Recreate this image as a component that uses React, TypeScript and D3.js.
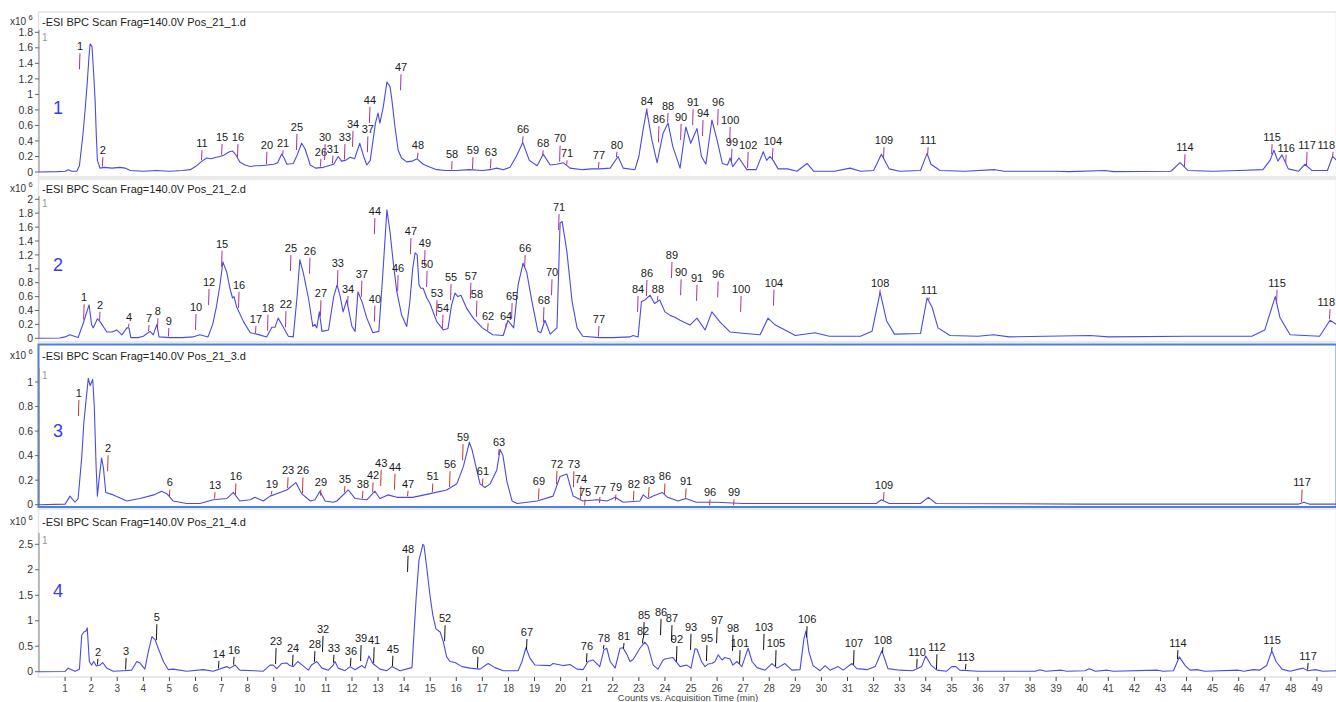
import * as d3 from "d3";

// ---- data (time in min, counts in x10^6) ----
const titles = [
  "-ESI BPC Scan Frag=140.0V Pos_21_1.d",
  "-ESI BPC Scan Frag=140.0V Pos_21_2.d",
  "-ESI BPC Scan Frag=140.0V Pos_21_3.d",
  "-ESI BPC Scan Frag=140.0V Pos_21_4.d",
];
const panelNames = ["1", "2", "3", "4"];

const xTicks = d3.range(1, 50);
const yTicks1 = [0, 0.2, 0.4, 0.6, 0.8, 1, 1.2, 1.4, 1.6, 1.8];
const yTicks2 = [0, 0.2, 0.4, 0.6, 0.8, 1, 1.2, 1.4, 1.6, 1.8, 2];
const yTicks3 = [0, 0.2, 0.4, 0.6, 0.8, 1];
const yTicks4 = [0, 0.5, 1, 1.5, 2, 2.5];

const trace1: [number, number][] = [
  [0, 0], [0.7, 0.005], [1.0, 0.01], [1.12, 0.03], [1.25, 0.01], [1.45, 0.01], [1.55, 0.08], [1.69, 0.5],
  [1.78, 0.85], [1.85, 1.15], [1.92, 1.5], [1.96, 1.65], [2.03, 1.62], [2.1, 1.25], [2.15, 0.93], [2.2, 0.45],
  [2.24, 0.15], [2.34, 0.05], [2.5, 0.06], [2.8, 0.05], [3.1, 0.06], [3.3, 0.05], [3.5, 0.02], [4.0, 0.01],
  [4.5, 0.02], [5.0, 0.01], [5.5, 0.02], [5.8, 0.03], [6.0, 0.07], [6.25, 0.14], [6.43, 0.18], [6.6, 0.17],
  [6.8, 0.19], [6.94, 0.2], [7.1, 0.22], [7.3, 0.26], [7.42, 0.27], [7.55, 0.22], [7.7, 0.13], [7.9, 0.09],
  [8.1, 0.07], [8.3, 0.08], [8.5, 0.08], [8.75, 0.09], [9.0, 0.1], [9.15, 0.12], [9.3, 0.23], [9.4, 0.18],
  [9.5, 0.1], [9.75, 0.11], [9.9, 0.22], [10.07, 0.37], [10.2, 0.3], [10.4, 0.09], [10.6, 0.05], [10.9, 0.06],
  [11.1, 0.08], [11.3, 0.1], [11.47, 0.2], [11.6, 0.14], [11.75, 0.15], [11.93, 0.19], [12.1, 0.17], [12.3, 0.37],
  [12.45, 0.2], [12.57, 0.09], [12.7, 0.15], [12.9, 0.63], [13.0, 0.76], [13.07, 0.63], [13.2, 0.84], [13.34, 1.16],
  [13.46, 1.1], [13.53, 0.93], [13.65, 0.58], [13.77, 0.28], [13.9, 0.18], [14.1, 0.13], [14.3, 0.14], [14.5, 0.17],
  [14.73, 0.1], [15.0, 0.06], [15.25, 0.03], [15.6, 0.02], [16.0, 0.02], [16.5, 0.03], [17.0, 0.02], [17.3, 0.03],
  [17.55, 0.05], [17.8, 0.03], [18.06, 0.06], [18.3, 0.2], [18.55, 0.38], [18.8, 0.15], [19.1, 0.08], [19.33, 0.23],
  [19.6, 0.09], [19.85, 0.1], [20.1, 0.12], [20.36, 0.05], [20.85, 0.03], [21.2, 0.04], [21.5, 0.04], [21.9, 0.05],
  [22.2, 0.2], [22.4, 0.05], [22.85, 0.03], [23.0, 0.2], [23.16, 0.54], [23.3, 0.8], [23.5, 0.41], [23.7, 0.12],
  [23.93, 0.5], [24.12, 0.63], [24.3, 0.33], [24.58, 0.05], [24.8, 0.58], [24.99, 0.37], [25.23, 0.56], [25.4, 0.2],
  [25.57, 0.1], [25.8, 0.67], [26.0, 0.41], [26.2, 0.11], [26.4, 0.09], [26.5, 0.18], [26.6, 0.07], [26.84, 0.18],
  [27.14, 0.03], [27.5, 0.03], [27.77, 0.26], [27.9, 0.15], [28.03, 0.2], [28.15, 0.15], [28.34, 0.04], [28.7, 0.04],
  [29.06, 0.01], [29.45, 0.11], [29.7, 0.01], [30.5, 0.01], [31.1, 0.05], [31.5, 0.01], [32.0, 0.02], [32.3, 0.23],
  [32.6, 0.04], [33.0, 0.01], [33.8, 0.02], [34.05, 0.24], [34.2, 0.1], [34.55, 0.02], [35.5, 0.01], [36.65, 0.03],
  [37.0, 0.01], [38.96, 0.01], [39.5, 0.005], [40.87, 0.02], [41.2, 0.005], [43.4, 0.01], [43.75, 0.12], [44.05, 0.02],
  [45.0, 0.01], [46.0, 0.02], [46.93, 0.03], [47.2, 0.15], [47.35, 0.28], [47.5, 0.14], [47.66, 0.22], [47.9, 0.04],
  [48.3, 0.01], [48.54, 0.1], [48.8, 0.02], [49.4, 0.02], [49.6, 0.2], [49.75, 0.15],
];

const trace2: [number, number][] = [
  [0, 0], [0.8, 0.005], [1.0, 0.02], [1.19, 0.05], [1.35, 0.03], [1.5, 0.01], [1.7, 0.22], [1.8, 0.34],
  [1.92, 0.48], [2.02, 0.19], [2.08, 0.15], [2.24, 0.28], [2.34, 0.24], [2.6, 0.09], [2.8, 0.09], [2.98, 0.12],
  [3.18, 0.05], [3.37, 0.15], [3.45, 0.15], [3.52, 0.01], [3.8, 0.01], [4.0, 0.03], [4.26, 0.1], [4.38, 0.05],
  [4.52, 0.2], [4.6, 0.02], [5.0, 0.01], [5.5, 0.01], [5.9, 0.02], [6.17, 0.05], [6.48, 0.02], [6.66, 0.2],
  [6.8, 0.45], [6.94, 0.77], [7.05, 1.1], [7.2, 0.95], [7.32, 0.72], [7.42, 0.58], [7.48, 0.6], [7.58, 0.45],
  [7.84, 0.24], [8.1, 0.08], [8.35, 0.06], [8.73, 0.02], [8.93, 0.16], [9.05, 0.16], [9.17, 0.29], [9.37, 0.16],
  [9.56, 0.03], [9.75, 0.02], [9.9, 0.62], [10.0, 1.13], [10.13, 0.95], [10.33, 0.58], [10.5, 0.17], [10.58, 0.2],
  [10.65, 0.15], [10.75, 0.38], [10.85, 0.1], [11.1, 0.12], [11.3, 0.6], [11.43, 0.77], [11.55, 0.6], [11.66, 0.38],
  [11.8, 0.55], [12.0, 0.17], [12.12, 0.1], [12.23, 0.67], [12.38, 0.53], [12.57, 0.29], [12.8, 0.08], [13.03, 0.1],
  [13.18, 0.91], [13.34, 1.85], [13.46, 1.53], [13.58, 1.1], [13.72, 0.67], [13.9, 0.34], [14.1, 0.17], [14.22, 0.53],
  [14.33, 1.01], [14.42, 1.23], [14.5, 1.2], [14.57, 0.77], [14.64, 0.72], [14.73, 0.72], [14.87, 0.58], [14.99, 0.5],
  [15.25, 0.24], [15.5, 0.12], [15.68, 0.14], [15.82, 0.48], [15.95, 0.65], [16.06, 0.6], [16.18, 0.62], [16.4, 0.43],
  [16.65, 0.29], [17.0, 0.15], [17.4, 0.05], [17.8, 0.04], [17.98, 0.26], [18.2, 0.15], [18.37, 0.77], [18.56, 1.08],
  [18.7, 0.95], [18.9, 0.53], [19.13, 0.1], [19.24, 0.08], [19.4, 0.26], [19.6, 0.06], [19.86, 0.15], [19.98, 1.66],
  [20.06, 1.68], [20.24, 1.25], [20.44, 0.53], [20.63, 0.15], [20.85, 0.03], [21.5, 0.01], [22.0, 0.01], [22.66, 0.02],
  [22.78, 0.04], [22.97, 0.02], [23.1, 0.53], [23.23, 0.55], [23.43, 0.62], [23.6, 0.5], [23.8, 0.55], [24.0, 0.38],
  [24.2, 0.33], [24.4, 0.3], [24.58, 0.26], [24.96, 0.19], [25.23, 0.29], [25.54, 0.12], [25.8, 0.38], [26.1, 0.24],
  [26.5, 0.09], [27.07, 0.07], [27.65, 0.05], [27.95, 0.29], [28.2, 0.2], [28.6, 0.12], [29.0, 0.04], [29.75, 0.08],
  [30.3, 0.03], [31.5, 0.03], [31.94, 0.1], [32.25, 0.66], [32.5, 0.25], [32.8, 0.06], [33.8, 0.07], [34.05, 0.58],
  [34.24, 0.45], [34.47, 0.15], [34.93, 0.04], [36.0, 0.03], [36.6, 0.05], [37.2, 0.02], [40.3, 0.04], [41.0, 0.02],
  [44.0, 0.03], [46.5, 0.03], [47.0, 0.12], [47.4, 0.6], [47.58, 0.3], [47.97, 0.05], [49.1, 0.03], [49.5, 0.26],
  [49.75, 0.2],
];

const trace3: [number, number][] = [
  [0, 0], [1.0, 0.005], [1.19, 0.07], [1.38, 0.02], [1.5, 0.05], [1.64, 0.39], [1.72, 0.67], [1.8, 0.84],
  [1.89, 1.03], [1.96, 0.97], [2.06, 1.02], [2.12, 0.8], [2.19, 0.31], [2.24, 0.07], [2.3, 0.2], [2.4, 0.38],
  [2.47, 0.3], [2.56, 0.1], [2.85, 0.08], [3.37, 0.03], [3.87, 0.05], [4.4, 0.08], [4.7, 0.11], [4.9, 0.09],
  [5.15, 0.03], [5.66, 0.01], [6.17, 0.01], [6.68, 0.04], [7.2, 0.05], [7.45, 0.1], [7.7, 0.03], [8.1, 0.04],
  [8.28, 0.06], [8.6, 0.03], [8.86, 0.07], [9.24, 0.1], [9.5, 0.12], [9.85, 0.18], [10.07, 0.09], [10.4, 0.03],
  [10.58, 0.04], [10.77, 0.11], [10.97, 0.03], [11.28, 0.02], [11.42, 0.03], [11.86, 0.12], [12.12, 0.05], [12.57, 0.04],
  [12.88, 0.11], [13.07, 0.05], [13.38, 0.08], [13.72, 0.06], [14.33, 0.06], [15.0, 0.09], [15.63, 0.12], [16.02, 0.17],
  [16.27, 0.31], [16.4, 0.42], [16.5, 0.51], [16.6, 0.45], [16.72, 0.34], [16.91, 0.17], [17.1, 0.14], [17.3, 0.17],
  [17.55, 0.28], [17.68, 0.45], [17.79, 0.4], [17.94, 0.19], [18.14, 0.03], [18.33, 0.01], [19.1, 0.03], [19.71, 0.07],
  [19.98, 0.23], [20.24, 0.25], [20.36, 0.16], [20.48, 0.07], [20.86, 0.03], [21.4, 0.04], [21.78, 0.03], [22.09, 0.06],
  [22.4, 0.02], [23.04, 0.03], [23.17, 0.08], [23.35, 0.05], [23.55, 0.07], [23.9, 0.1], [24.1, 0.06], [24.5, 0.03],
  [24.8, 0.05], [25.2, 0.02], [26.0, 0.02], [27.0, 0.01], [29.0, 0.01], [31.0, 0.01], [32.1, 0.01], [32.3, 0.04],
  [32.6, 0.01], [33.8, 0.01], [34.1, 0.06], [34.4, 0.01], [40.0, 0.005], [48.3, 0.005], [48.5, 0.02], [48.7, 0.005],
  [49.75, 0.005],
];

const trace4: [number, number][] = [
  [0, 0], [1.0, 0.005], [1.12, 0.07], [1.38, 0.01], [1.55, 0.05], [1.64, 0.72], [1.72, 0.78], [1.8, 0.8],
  [1.85, 0.86], [1.93, 0.2], [2.02, 0.13], [2.1, 0.2], [2.2, 0.11], [2.34, 0.13], [2.44, 0.18], [2.6, 0.07],
  [2.85, 0.01], [3.23, 0.02], [3.55, 0.03], [3.75, 0.2], [3.87, 0.17], [4.06, 0.05], [4.19, 0.39], [4.33, 0.69],
  [4.45, 0.63], [4.57, 0.46], [4.77, 0.2], [4.96, 0.04], [5.15, 0.05], [5.66, 0.01], [6.3, 0.04], [6.68, 0.01],
  [7.2, 0.1], [7.32, 0.07], [7.52, 0.13], [7.7, 0.03], [8.22, 0.02], [8.6, 0.01], [8.86, 0.13], [8.98, 0.13],
  [9.12, 0.06], [9.3, 0.16], [9.5, 0.17], [9.62, 0.12], [9.75, 0.1], [9.92, 0.2], [10.07, 0.14], [10.33, 0.03],
  [10.45, 0.13], [10.65, 0.2], [10.85, 0.07], [11.09, 0.03], [11.28, 0.13], [11.35, 0.2], [11.47, 0.07], [11.73, 0.02],
  [11.93, 0.1], [12.12, 0.04], [12.38, 0.12], [12.5, 0.07], [12.65, 0.31], [12.8, 0.16], [13.07, 0.05], [13.34, 0.02],
  [13.53, 0.1], [13.84, 0.02], [14.22, 0.07], [14.3, 0.08], [14.46, 1.44], [14.57, 2.19], [14.72, 2.5], [14.76, 2.48],
  [14.87, 2.03], [14.99, 1.5], [15.1, 1.11], [15.22, 0.84], [15.38, 0.78], [15.5, 0.59], [15.63, 0.29], [15.76, 0.2],
  [15.95, 0.18], [16.22, 0.1], [16.53, 0.07], [16.91, 0.05], [17.22, 0.16], [17.48, 0.08], [17.8, 0.02], [18.37, 0.02],
  [18.52, 0.2], [18.67, 0.47], [18.83, 0.26], [19.02, 0.13], [19.6, 0.12], [19.71, 0.16], [20.1, 0.12], [20.36, 0.14],
  [20.63, 0.05], [20.86, 0.04], [21.05, 0.2], [21.24, 0.23], [21.5, 0.1], [21.66, 0.43], [21.77, 0.46], [21.9, 0.2],
  [22.09, 0.07], [22.28, 0.46], [22.39, 0.47], [22.55, 0.33], [22.66, 0.2], [22.78, 0.24], [23.04, 0.46], [23.23, 0.58],
  [23.35, 0.5], [23.55, 0.13], [23.73, 0.05], [23.93, 0.23], [24.0, 0.25], [24.3, 0.28], [24.58, 0.1], [24.84, 0.13],
  [25.0, 0.07], [25.15, 0.45], [25.23, 0.44], [25.4, 0.2], [25.54, 0.1], [25.65, 0.15], [25.8, 0.16], [25.92, 0.2],
  [26.04, 0.33], [26.19, 0.23], [26.3, 0.28], [26.5, 0.25], [26.6, 0.13], [26.76, 0.2], [26.95, 0.1], [27.1, 0.33],
  [27.19, 0.46], [27.34, 0.2], [27.53, 0.08], [27.84, 0.03], [28.1, 0.16], [28.3, 0.07], [28.6, 0.16], [28.87, 0.03],
  [29.18, 0.04], [29.33, 0.65], [29.41, 0.8], [29.52, 0.39], [29.68, 0.12], [29.95, 0.02], [30.14, 0.12], [30.33, 0.03],
  [30.64, 0.1], [30.83, 0.03], [31.17, 0.16], [31.36, 0.06], [31.75, 0.04], [32.06, 0.1], [32.32, 0.41], [32.44, 0.23],
  [32.55, 0.06], [33.0, 0.03], [33.5, 0.02], [33.84, 0.1], [34.0, 0.31], [34.2, 0.13], [34.43, 0.03], [34.8, 0.01],
  [35.0, 0.1], [35.16, 0.1], [35.3, 0.03], [36.0, 0.01], [38.2, 0.01], [38.38, 0.04], [38.6, 0.01], [39.2, 0.03],
  [39.4, 0.01], [40.1, 0.02], [40.27, 0.06], [40.5, 0.01], [40.95, 0.03], [41.2, 0.01], [42.9, 0.03], [43.1, 0.01],
  [43.5, 0.02], [43.72, 0.29], [43.95, 0.12], [44.13, 0.03], [44.4, 0.04], [44.7, 0.01], [45.98, 0.03], [46.2, 0.01],
  [46.55, 0.04], [46.8, 0.03], [47.07, 0.12], [47.27, 0.41], [47.43, 0.2], [47.66, 0.05], [47.97, 0.01], [48.47, 0.07],
  [48.65, 0.02], [48.93, 0.04], [49.23, 0.01], [49.75, 0.02],
];

// peak labels: [text, time of label centre, height of label centre]
const labels1: [string, number, number][] = [
  ["1", 1.57, 1.62], ["2", 2.45, 0.28], ["11", 6.25, 0.37], ["15", 7.02, 0.45], ["16", 7.63, 0.45],
  ["20", 8.74, 0.35], ["21", 9.36, 0.37], ["25", 9.89, 0.58], ["26", 10.81, 0.26], ["30", 10.97, 0.45],
  ["31", 11.27, 0.3], ["33", 11.73, 0.45], ["34", 12.04, 0.62], ["37", 12.61, 0.55], ["44", 12.69, 0.93],
  ["47", 13.88, 1.35], ["48", 14.53, 0.34], ["58", 15.84, 0.23], ["59", 16.64, 0.28], ["63", 17.33, 0.26],
  ["66", 18.56, 0.55], ["68", 19.33, 0.37], ["70", 19.98, 0.43], ["71", 20.25, 0.24], ["77", 21.47, 0.22],
  ["80", 22.16, 0.35], ["84", 23.31, 0.91], ["86", 23.77, 0.68], ["88", 24.12, 0.85], ["90", 24.62, 0.71],
  ["91", 25.08, 0.9], ["94", 25.46, 0.76], ["96", 26.04, 0.9], ["100", 26.5, 0.67], ["99", 26.57, 0.39],
  ["102", 27.19, 0.35], ["104", 28.14, 0.4], ["109", 32.4, 0.41], ["111", 34.09, 0.41], ["114", 43.94, 0.32],
  ["115", 47.28, 0.45], ["116", 47.82, 0.31], ["117", 48.62, 0.35], ["118", 49.62, 0.35],
];

const labels2: [string, number, number][] = [
  ["1", 1.73, 0.59], ["2", 2.34, 0.48], ["4", 3.45, 0.31], ["7", 4.22, 0.29], ["8", 4.56, 0.39],
  ["9", 4.98, 0.25], ["10", 6.02, 0.45], ["12", 6.52, 0.81], ["15", 7.02, 1.36], ["16", 7.67, 0.77],
  ["17", 8.32, 0.28], ["18", 8.78, 0.44], ["22", 9.47, 0.49], ["25", 9.66, 1.3], ["26", 10.39, 1.26],
  ["27", 10.81, 0.65], ["33", 11.46, 1.08], ["34", 11.85, 0.71], ["37", 12.38, 0.93], ["40", 12.88, 0.57],
  ["44", 12.88, 1.83], ["46", 13.77, 1.01], ["47", 14.26, 1.54], ["49", 14.8, 1.37], ["50", 14.88, 1.07],
  ["53", 15.26, 0.65], ["54", 15.49, 0.44], ["55", 15.8, 0.88], ["57", 16.56, 0.9], ["58", 16.79, 0.64],
  ["62", 17.22, 0.32], ["64", 17.91, 0.32], ["65", 18.14, 0.61], ["66", 18.64, 1.3], ["68", 19.36, 0.55],
  ["70", 19.67, 0.95], ["71", 19.94, 1.89], ["77", 21.47, 0.28], ["84", 22.97, 0.71], ["86", 23.31, 0.94],
  ["88", 23.73, 0.71], ["89", 24.27, 1.2], ["90", 24.62, 0.95], ["91", 25.23, 0.87], ["96", 26.04, 0.92],
  ["100", 26.92, 0.71], ["104", 28.18, 0.8], ["108", 32.25, 0.8], ["111", 34.13, 0.69], ["115", 47.47, 0.8],
  ["118", 49.5, 0.52],
];

const labels3: [string, number, number][] = [
  ["1", 1.53, 0.91], ["2", 2.65, 0.46], ["6", 5.02, 0.18], ["13", 6.75, 0.16], ["16", 7.55, 0.23],
  ["19", 8.93, 0.17], ["23", 9.55, 0.28], ["26", 10.12, 0.28], ["29", 10.81, 0.18], ["35", 11.73, 0.21],
  ["38", 12.42, 0.17], ["42", 12.81, 0.24], ["43", 13.12, 0.34], ["44", 13.65, 0.31], ["47", 14.15, 0.17],
  ["51", 15.1, 0.23], ["56", 15.76, 0.33], ["59", 16.26, 0.55], ["61", 17.02, 0.27], ["63", 17.64, 0.51],
  ["69", 19.17, 0.19], ["72", 19.86, 0.33], ["73", 20.51, 0.33], ["74", 20.78, 0.21], ["75", 20.94, 0.1],
  ["77", 21.51, 0.12], ["79", 22.12, 0.14], ["82", 22.81, 0.17], ["83", 23.39, 0.2], ["86", 24.0, 0.23],
  ["91", 24.81, 0.19], ["96", 25.73, 0.1], ["99", 26.65, 0.1], ["109", 32.4, 0.16], ["117", 48.43, 0.18],
];

const labels4: [string, number, number][] = [
  ["2", 2.26, 0.39], ["3", 3.34, 0.41], ["5", 4.52, 1.07], ["14", 6.9, 0.35], ["16", 7.48, 0.43],
  ["23", 9.09, 0.6], ["24", 9.74, 0.47], ["28", 10.58, 0.54], ["32", 10.89, 0.84], ["33", 11.31, 0.47],
  ["36", 11.96, 0.41], ["39", 12.35, 0.66], ["41", 12.85, 0.62], ["45", 13.57, 0.45], ["48", 14.15, 2.41],
  ["52", 15.57, 1.05], ["60", 16.83, 0.43], ["67", 18.71, 0.78], ["76", 21.01, 0.5], ["78", 21.66, 0.66],
  ["81", 22.43, 0.7], ["82", 23.16, 0.8], ["85", 23.2, 1.11], ["86", 23.85, 1.17], ["87", 24.27, 1.05],
  ["92", 24.46, 0.64], ["93", 25.0, 0.88], ["95", 25.61, 0.66], ["97", 26.0, 1.01], ["98", 26.61, 0.86],
  ["101", 26.88, 0.56], ["103", 27.8, 0.88], ["105", 28.26, 0.56], ["106", 29.45, 1.03], ["107", 31.25, 0.56],
  ["108", 32.36, 0.62], ["110", 33.67, 0.39], ["112", 34.43, 0.48], ["113", 35.54, 0.29], ["114", 43.67, 0.56],
  ["115", 47.28, 0.62], ["117", 48.66, 0.31],
];

// ---- layout ----
const W = 1336;
const H = 702;
const FONT = "'Liberation Sans', Arial, sans-serif";
const x = d3.scaleLinear().domain([0, 49.73]).range([39, W]);

const panels = [
  { trace: trace1, labels: labels1, ticks: yTicks1, vmax: 1.8, y0: 172, y1: 32.3, axisTop: 30, box: [12, 177], headY: 22, numY: 108, marker: "#a4309c", border: "#e3e3e3" },
  { trace: trace2, labels: labels2, ticks: yTicks2, vmax: 2, y0: 338.3, y1: 199.3, axisTop: 196, box: [179, 342], headY: 189, numY: 265, marker: "#a8349a", border: "#e3e3e3" },
  { trace: trace3, labels: labels3, ticks: yTicks3, vmax: 1, y0: 504.7, y1: 382, axisTop: 368, box: [344.5, 507], headY: 356, numY: 431, marker: "#c0392b", border: "#4f7fd6" },
  { trace: trace4, labels: labels4, ticks: yTicks4, vmax: 2.5, y0: 671.7, y1: 544.3, axisTop: 533, box: [509, 677], headY: 522, numY: 591, marker: "#111111", border: "#e3e3e3" },
];

const interp = (trace: [number, number][], t: number) => {
  const i = d3.bisector((d: [number, number]) => d[0]).left(trace, t);
  if (i <= 0) return trace[0][1];
  if (i >= trace.length) return trace[trace.length - 1][1];
  const [t0, v0] = trace[i - 1];
  const [t1, v1] = trace[i];
  return v0 + ((v1 - v0) * (t - t0)) / (t1 - t0);
};

const Panel = ({ p, idx }: { p: (typeof panels)[number]; idx: number }) => {
  const y = d3.scaleLinear().domain([0, p.vmax]).range([p.y0, p.y1]);
  const line = d3
    .line<[number, number]>()
    .x((d) => x(d[0]))
    .y((d) => y(d[1]));
  const blue = idx === 2;
  return (
    <g>
      <rect
        x={38.5}
        y={p.box[0]}
        width={W - 38}
        height={p.box[1] - p.box[0]}
        fill="none"
        stroke={p.border}
        strokeWidth={blue ? 2 : 1.5}
      />
      <text x={10} y={p.headY + 2.5} fontSize={10} fill="#333" fontFamily={FONT}>
        x10
      </text>
      <text x={28.5} y={p.headY - 2} fontSize={7.5} fill="#333" fontFamily={FONT}>
        6
      </text>
      <text x={42} y={p.headY + 4} fontSize={11} fill="#222" fontFamily={FONT}>
        {titles[idx]}
      </text>
      <text x={42} y={p.axisTop + 11} fontSize={10} fill="#999" fontFamily={FONT}>
        1
      </text>
      <text x={58} y={p.numY} fontSize={18} fill="#3b3bf2" textAnchor="middle" dy="0.35em" fontFamily={FONT}>
        {panelNames[idx]}
      </text>
      {/* y axis */}
      <line x1={39} x2={39} y1={p.axisTop} y2={p.y0} stroke="#888" />
      {p.ticks.map((t) => (
        <g key={t}>
          <line x1={35} x2={39} y1={y(t)} y2={y(t)} stroke="#666" />
          <text x={33} y={y(t)} dy="0.35em" textAnchor="end" fontSize={10.5} fill="#333" fontFamily={FONT}>
            {String(t)}
          </text>
        </g>
      ))}
      <clipPath id={`clip${idx}`}>
        <rect x={39} y={p.box[0]} width={W - 39} height={p.box[1] - p.box[0]} />
      </clipPath>
      <g clipPath={`url(#clip${idx})`}>
        <path d={line(p.trace) ?? ""} fill="none" stroke="#4a4ae6" strokeWidth={1.1} strokeLinejoin="round" />
        {p.labels.map(([txt, t, v], i) => {
          const ly = y(v);
          const top = ly + 7;
          const cy = y(interp(p.trace, t));
          const bottom = cy > top + 4 ? Math.min(cy - 1, top + 16) : top + 6;
          const half = txt.length * 3.06;
          const lx = Math.min(x(t), W - 0.5 - half);
          return (
            <g key={i}>
              <line x1={x(t)} x2={x(t) - 0.5} y1={top} y2={bottom} stroke={p.marker} strokeWidth={1} />
              <text x={lx} y={ly} dy="0.35em" textAnchor="middle" fontSize={11} fill="#1a1a1a" fontFamily={FONT}>
                {txt}
              </text>
            </g>
          );
        })}
      </g>
    </g>
  );
};

export default function App() {
  return (
    <div style={{ position: "absolute", left: 0, top: 0, width: W, height: H, background: "#fff" }}>
      <svg width={W} height={H} style={{ display: "block" }}>
        <rect width={W} height={H} fill="#fff" />
        {panels.map((p, i) => (
          <Panel key={i} p={p} idx={i} />
        ))}
        {/* time axis */}
        {xTicks.map((t) => (
          <g key={t}>
            <line x1={x(t)} x2={x(t)} y1={677} y2={681} stroke="#444" />
            <text x={x(t)} y={688} dy="0.35em" textAnchor="middle" fontSize={10} fill="#444" fontFamily={FONT}>
              {t}
            </text>
          </g>
        ))}
        <text x={688} y={698} dy="0.3em" textAnchor="middle" fontSize={9.5} fill="#444" fontFamily={FONT}>
          Counts vs. Acquisition Time (min)
        </text>
      </svg>
    </div>
  );
}
